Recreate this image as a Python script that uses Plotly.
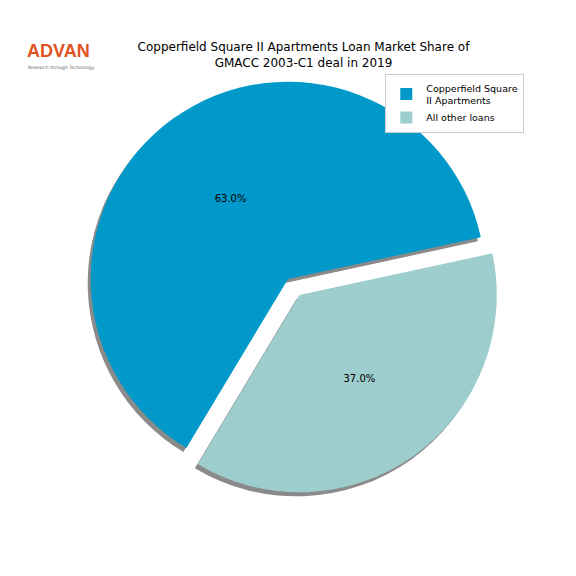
import plotly.graph_objects as go

labels = ["Copperfield Square<br>II Apartments", "All other loans"]
values = [63.0, 37.0]
colors = ["#0099c9", "#9dcdcd"]
pulls = [0, 0.1]

W = 576
cx, cy, R = 280, 271, 217
def dom(dx, dy):
    return dict(x=[(cx - R + dx) / W, (cx + R + dx) / W],
                y=[1 - (cy + R + dy) / W, 1 - (cy - R + dy) / W])

fig = go.Figure()
fig.add_trace(go.Pie(labels=labels, values=values, pull=pulls, sort=False,
                     direction="counterclockwise", rotation=211,
                     marker=dict(colors=["#8a8a8a", "#8a8a8a"], line=dict(width=0)),
                     textinfo="none", hoverinfo="skip", showlegend=False,
                     domain=dom(-3, 4)))
fig.add_trace(go.Pie(labels=labels, values=values, pull=pulls, sort=False,
                     direction="counterclockwise", rotation=211,
                     marker=dict(colors=colors, line=dict(width=0)),
                     textinfo="percent", texttemplate="%{percent:.1%}",
                     textposition="inside", insidetextorientation="horizontal",
                     textfont=dict(color="black", size=10),
                     domain=dom(0, 0)))
fig.update_layout(
    width=576, height=576, margin=dict(l=0, r=0, t=0, b=0),
    paper_bgcolor="white", plot_bgcolor="white",
    font=dict(family="DejaVu Sans", color="black"),
    title=dict(text="Copperfield Square II Apartments Loan Market Share of<br>GMACC 2003-C1 deal in 2019",
               x=0.513, xanchor="center", y=0.925, yanchor="top", font=dict(size=12)),
    legend=dict(x=0.655, y=0.885, xanchor="left", yanchor="top",
                bordercolor="#cccccc", borderwidth=1, font=dict(size=9.5),
                bgcolor="white", traceorder="normal", tracegroupgap=0),
    annotations=[
        dict(text="<b>ADVAN</b>", x=18 / W, y=1 - 32 / W, xref="paper", yref="paper",
             xanchor="left", yanchor="top", showarrow=False, borderpad=0,
             font=dict(size=18, color="#e0531f", family="Liberation Sans")),
        dict(text="Research through Technology", x=19 / W, y=1 - 56 / W, xref="paper", yref="paper",
             xanchor="left", yanchor="top", showarrow=False, borderpad=0,
             font=dict(size=4.5, color="#666666")),
    ],
)
fig.write_html("out.html")
